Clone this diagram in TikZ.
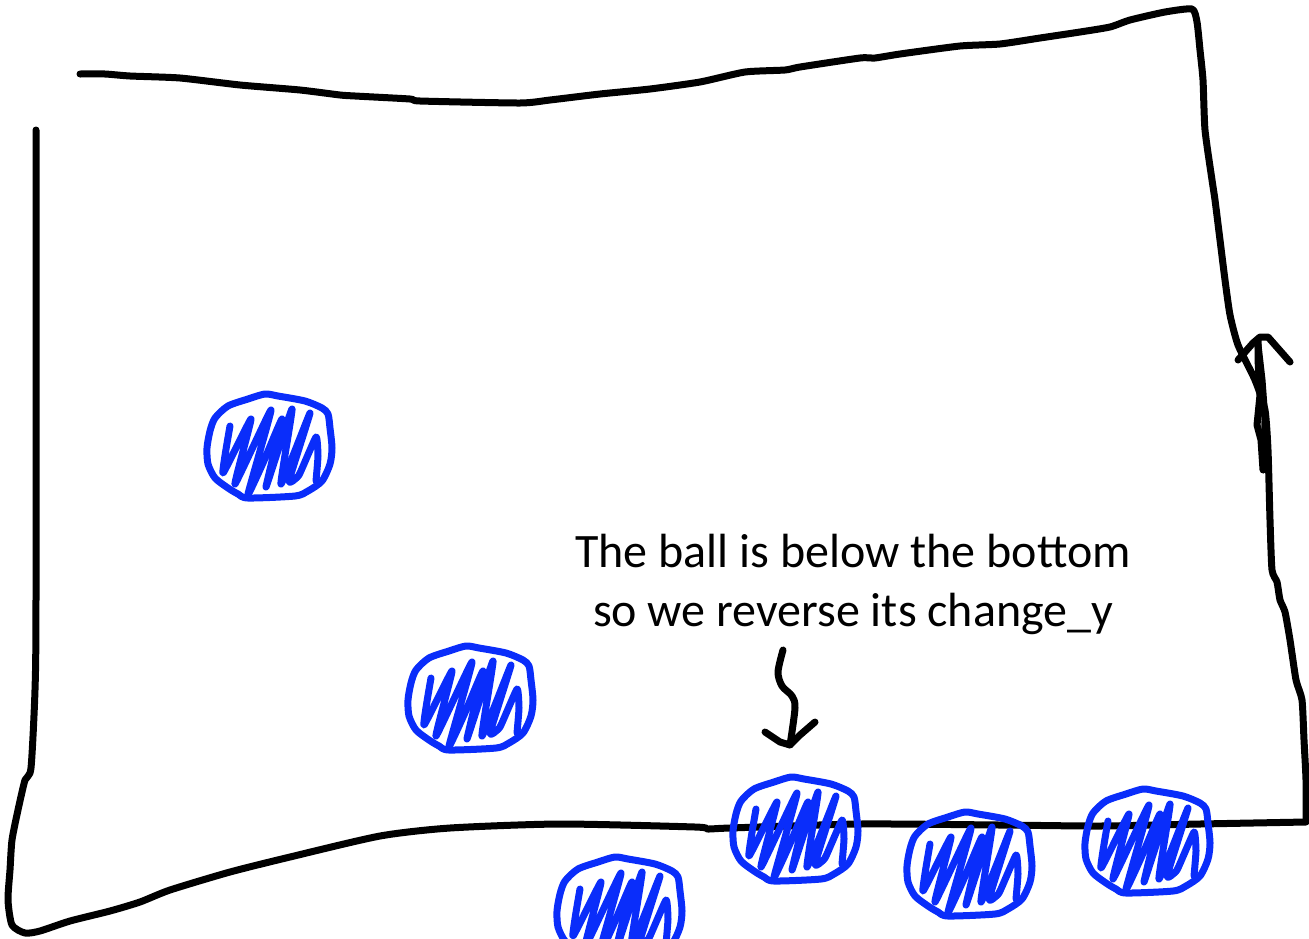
\documentclass[tikz,border=0pt]{standalone}
\usepackage{fontspec}
\setmainfont{Carlito}
\definecolor{ballblue}{RGB}{10,45,250}
\tikzset{
  ink/.style={line width=7pt, line cap=round, line join=round, black},
  bluepen/.style={line width=7pt, line cap=round, line join=round, ballblue},
  scribble/.style={line width=7pt, line cap=round, line join=round, ballblue},
  note/.style={font=\fontsize{48}{58}\selectfont, inner sep=0pt, anchor=base},
  ball/.pic={
    \draw[bluepen] plot[smooth cycle, tension=0.45] coordinates {
      (-5,-52) (8,-50) (35,-45) (52,-38) (58,-32) (60,-18) (62,2) (60,18)
      (52,35) (38,45) (25,50) (-22,52) (-32,48) (-42,42) (-55,32) (-62,18)
      (-63,2) (-60,-15) (-55,-28) (-42,-40) (-22,-47)};
    \draw[scribble] plot[smooth, tension=0.25] coordinates {
      (-40,-20) (-47,27) (-19,-27) (-35,38) (1,-36) (-22,48) (-7,17)
      (12,-27) (-4,41) (22,-37) (11,38) (40,-33) (19,35) (29,29)
      (46,-9) (48,10) (46,35)};
  }
}
\begin{document}
\begin{tikzpicture}[x=1pt,y=-1pt]
\useasboundingbox (0,0) rectangle (1309,938);
\clip (0,0) rectangle (1309,938);

% the field: top edge, right edge and bottom edge in one stroke
\draw[ink] plot[smooth, tension=0.35] coordinates {
  (80,74) (105,74) (130,76) (180,78) (240,85) (300,90) (340,95) (355,96)
  (410,99) (420,101) (520,103) (550,100) (600,94) (650,89) (700,82)
  (745,72) (785,70) (800,67) (860,58) (875,58) (900,54) (960,46)
  (1000,44) (1040,38) (1080,32) (1110,27) (1130,20) (1165,12) (1192,9)
  (1197,22) (1200,50) (1203,80) (1205,130) (1212,180) (1215,200)
  (1220,240) (1225,280) (1230,315) (1238,345) (1255,380) (1265,410)
  (1268,450) (1270,520) (1272,570) (1277,582) (1280,600) (1285,612)
  (1290,640) (1296,680) (1302,700) (1304,740) (1306,780) (1306,820)};
\draw[ink] plot[smooth, tension=0.4] coordinates {
  (1306,822) (1200,824) (1100,826) (1000,825) (860,824) (730,828)
  (708,829) (695,827) (560,824) (450,828) (380,836) (290,857) (230,872)
  (170,890) (140,902) (110,911) (70,921) (40,931) (25,933) (12,925)
  (8,900) (10,870) (12,840) (18,810) (25,780) (31,768) (35,690)
  (36,600) (36,130)};

% the upward arrow on the right edge
\coordinate (upfoot) at (1263,470);
\coordinate (uptip) at (1258,340);
\draw[ink] (upfoot) -- (1261,440) -- (1257,425) -- (1260,395) -- (1258,360) -- (uptip);
\draw[ink] (1264,465) -- (1265,420) -- (1262,380) -- (1258,345);
\draw[ink] (1238,360) -- (1253,343) -- (1260,337) -- (1268,337) -- (1290,362);

% the balls
\pic (b1) at (270,446) {ball};
\pic (b2) at (471,698) {ball};
\pic (b3) at (796,829) {ball};
\pic (b4) at (970,864) {ball};
\pic (b5) at (1148,841) {ball};
\pic (b6) at (620,909) {ball};

% the note and its arrow down to the ball at the bottom
\node[note] (line1) at (853,567) {The ball is below the bottom};
\node[note] (line2) at (853,626) {so we reverse its change\_y};
\coordinate (tail) at (783,650);
\coordinate (head) at (790,745);
\draw[ink] plot[smooth, tension=0.5] coordinates {
  (tail) (778,672) (782,686) (792,696) (795,708) (head)};
\draw[ink] (765,732) -- (780,742) -- (head) -- (800,735) -- (815,722);
\end{tikzpicture}
\end{document}
